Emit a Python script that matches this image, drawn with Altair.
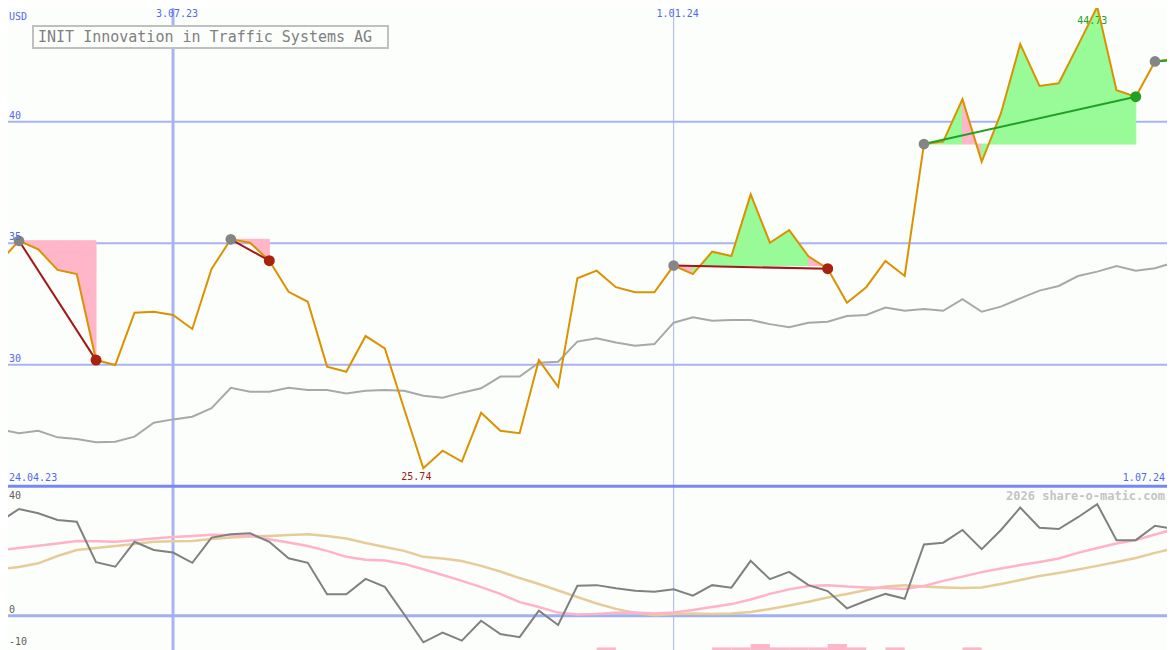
import altair as alt
import pandas as pd

# ---------------- data ----------------
first_day = "2023-05-01"
n_weeks = 62

price = [34.24, 35.10, 34.75, 33.90, 33.73, 30.19, 29.99, 32.14, 32.18, 32.05,
         31.47, 33.94, 35.16, 35.02, 34.28, 33.00, 32.59, 29.92, 29.71, 31.18,
         30.67, 28.19, 25.74, 26.46, 26.01, 28.02, 27.28, 27.18, 30.19, 29.09,
         33.56, 33.87, 33.19, 32.98, 32.98, 34.08, 33.73, 34.65, 34.47, 37.01,
         35.02, 35.54, 34.46, 33.95, 32.55, 33.19, 34.27, 33.65, 39.08, 39.18,
         40.93, 38.35, 40.35, 43.19, 41.47, 41.58, 43.14, 44.73, 41.30, 41.03,
         42.48, 42.55]

avg_price = [27.34, 27.18, 27.28, 27.01, 26.94, 26.81, 26.83, 27.04, 27.61, 27.75,
             27.86, 28.21, 29.05, 28.89, 28.89, 29.05, 28.96, 28.96, 28.82, 28.93,
             28.96, 28.93, 28.72, 28.64, 28.85, 29.03, 29.51, 29.51, 30.08, 30.12,
             30.95, 31.09, 30.91, 30.78, 30.85, 31.73, 31.95, 31.81, 31.84, 31.84,
             31.67, 31.54, 31.73, 31.77, 32.00, 32.05, 32.35, 32.22, 32.29, 32.22,
             32.70, 32.18, 32.39, 32.73, 33.05, 33.24, 33.65, 33.83, 34.06, 33.87,
             33.97, 34.21]

osc_main = [33.2, 37.7, 36.2, 33.8, 33.2, 18.9, 17.3, 26.1, 23.2, 22.3,
            18.7, 27.6, 28.8, 29.1, 26.1, 20.3, 18.7, 7.6, 7.6, 13.0,
            10.2, 0.5, -9.4, -6.0, -8.8, -1.8, -6.5, -7.6, 1.8, -3.3,
            10.6, 10.8, 9.7, 8.8, 8.5, 9.3, 7.1, 10.8, 9.9, 19.4,
            12.9, 15.5, 10.8, 8.7, 2.6, 5.3, 7.7, 6.0, 25.2, 25.8,
            30.3, 23.5, 30.3, 38.2, 31.1, 30.6, 34.8, 39.4, 26.7, 26.7,
            31.8, 30.6]

osc_pink = [23.1, 23.9, 24.7, 25.5, 26.4, 26.3, 26.1, 26.7, 27.3, 27.8,
            28.2, 28.6, 28.5, 28.2, 27.0, 25.9, 24.6, 22.9, 20.8, 19.8,
            19.5, 18.3, 16.4, 14.4, 12.3, 10.1, 7.7, 4.8, 3.1, 1.1,
            0.4, 0.6, 1.0, 1.1, 0.8, 1.1, 2.0, 3.1, 4.1, 5.7,
            7.7, 9.3, 10.5, 10.8, 10.3, 10.0, 9.8, 9.4, 10.5, 12.3,
            13.8, 15.4, 16.7, 17.9, 19.0, 20.2, 22.2, 23.9, 25.5, 26.7,
            28.7, 30.6]

osc_tan = [16.4, 17.2, 18.5, 21.1, 23.2, 23.9, 24.6, 25.3, 26.1, 26.3,
           26.4, 27.1, 27.6, 28.0, 28.2, 28.5, 28.8, 28.2, 27.3, 25.7,
           24.3, 22.9, 20.8, 20.2, 19.3, 17.6, 15.6, 13.3, 11.2, 8.9,
           6.6, 4.3, 2.4, 1.0, 0.2, 0.6, 0.8, 0.6, 0.8, 1.3,
           2.4, 3.6, 4.9, 6.4, 7.7, 9.1, 10.3, 10.8, 10.3, 10.0,
           9.8, 10.0, 11.2, 12.6, 14.0, 15.1, 16.3, 17.6, 19.0, 20.4,
           22.2, 23.8]

bar_start = [31, 37, 38, 39, 40, 41, 42, 43, 44, 46, 50]
bar_top = [-11.2, -11.2, -11.2, -10.0, -11.2, -11.2, -11.2, -10.0, -11.2, -11.2, -11.2]
bar_floor = -13.0

entry_idx = [1, 12, 35, 48, 60]
exit_idx = [5, 14, 43, 59, 61]
trade_color = ["#A01818", "#A01818", "#A01818", "#23A023", "#23A023"]
exit_marker_idx = [5, 14, 43, 59]
exit_marker_color = ["#A8230F", "#A8230F", "#A8230F", "#23A023"]

price_grid = [30, 35, 40]
price_floor = 25
osc_zero = 0
osc_tick_labels = ["40", "0", "-10"]
osc_tick_values = [40, 0, -10]
osc_tick_dy = [-6, -6, -2]
grid_dates = ["2023-07-03", "2024-01-01"]
grid_date_labels = ["3.07.23", "1.01.24"]
grid_widths = [3, 1]
corner_labels = ["24.04.23", "1.07.24"]
title = "INIT Innovation in Traffic Systems AG"
watermark = "2026 share-o-matic.com"
currency = "USD"

# ---------------- styling ----------------
FONT = "DejaVu Sans Mono"
BLUE_TXT = "#5468EE"
GRID = "#A8B4F2"
GREEN_FILL = "#98FB98"
PINK_FILL = "#FFB6C8"
BG = "#FCFEFC"
W, H = 1159, 642

# ---------------- tables ----------------
dates = pd.date_range(first_day, periods=n_weeks, freq="7D")
t0 = dates[0]
day = [(d - t0).days for d in dates]
df = pd.DataFrame({"day": day, "price": price, "avg": avg_price,
                   "osc": osc_main, "pink": osc_pink, "tan": osc_tan})

seg_rows = []
for t, (a, b) in enumerate(zip(entry_idx[:4], exit_idx[:4])):
    base = price[a]
    for k in range(a, b):
        col = GREEN_FILL if price[k + 1] > base else PINK_FILL
        sid = f"{t}-{k}"
        seg_rows.append(dict(seg=sid, day=day[k], p=price[k], base=base, col=col))
        seg_rows.append(dict(seg=sid, day=day[k + 1], p=price[k + 1], base=base, col=col))
seg_df = pd.DataFrame(seg_rows)

tl_rows = []
for t, (a, b, c) in enumerate(zip(entry_idx, exit_idx, trade_color)):
    tl_rows.append(dict(trade=t, day=day[a], p=price[a], col=c))
    tl_rows.append(dict(trade=t, day=day[b], p=price[b], col=c))
tl_df = pd.DataFrame(tl_rows)

entry_df = pd.DataFrame({"day": [day[i] for i in entry_idx], "p": [price[i] for i in entry_idx]})
exit_df = pd.DataFrame({"day": [day[i] for i in exit_marker_idx],
                        "p": [price[i] for i in exit_marker_idx],
                        "col": exit_marker_color})

bar_df = pd.DataFrame({"d0": [day[i] for i in bar_start],
                       "d1": [day[i + 1] for i in bar_start],
                       "top": bar_top, "floor": [bar_floor] * len(bar_start)})

grid_day = [(pd.Timestamp(g) - t0).days for g in grid_dates]
vgrid_df = pd.DataFrame({"day": grid_day, "w": grid_widths, "t": grid_date_labels})

i_low = price.index(min(price))
i_high = price.index(max(price))

# ---------------- scales ----------------
xs = alt.Scale(domain=[2.9994, 424.36], nice=False, zero=False)
ys = alt.Scale(domain=[18.26, 44.679], nice=False, zero=False)
ls = alt.Scale(domain=[-12.12, 214.73], nice=False, zero=False)

X = alt.X("day:Q", scale=xs, axis=None)

def PY(f):
    return alt.Y(f, scale=ys, axis=None)

def LY(f):
    return alt.Y(f, scale=ls, axis=None)

# ---------------- price panel ----------------
hgrid = alt.Chart(pd.DataFrame({"v": price_grid})).mark_rule(color=GRID, strokeWidth=2).encode(y=PY("v:Q"))
floor_rule = alt.Chart(pd.DataFrame({"v": [price_floor]})).mark_rule(color="#7888F0", strokeWidth=3).encode(y=PY("v:Q"))

areas = alt.Chart(seg_df).mark_area(opacity=1, strokeWidth=1).encode(
    x=X, y=PY("p:Q"), y2="base:Q",
    color=alt.Color("col:N", scale=None),
    stroke=alt.Stroke("col:N", scale=None),
    detail="seg:N")

avg_line = alt.Chart(df).mark_line(color="#A8A8A8", strokeWidth=2).encode(x=X, y=PY("avg:Q"))

low_txt = alt.Chart(pd.DataFrame({"day": [day[i_low]], "v": [price_floor], "t": [f"{price[i_low]:.2f}"]})).mark_text(
    font=FONT, fontSize=10, color="#A01818", dx=-7, dy=-9).encode(x=X, y=PY("v:Q"), text="t:N")
high_txt = alt.Chart(pd.DataFrame({"day": [day[i_high]], "v": [price[i_high]], "t": [f"{price[i_high]:.2f}"]})).mark_text(
    font=FONT, fontSize=10, color="#23A023", dx=-5, dy=14).encode(x=X, y=PY("v:Q"), text="t:N")

price_line = alt.Chart(df).mark_line(color="#DA9200", strokeWidth=2).encode(x=X, y=PY("price:Q"))

trade_lines = alt.Chart(tl_df).mark_line(strokeWidth=2).encode(
    x=X, y=PY("p:Q"), color=alt.Color("col:N", scale=None), detail="trade:N")

entry_pts = alt.Chart(entry_df).mark_circle(size=115, opacity=1, color="#858585").encode(x=X, y=PY("p:Q"))
exit_pts = alt.Chart(exit_df).mark_circle(size=120, opacity=1).encode(
    x=X, y=PY("p:Q"), color=alt.Color("col:N", scale=None))

price_labels = alt.Chart(pd.DataFrame({"v": price_grid, "t": [str(v) for v in price_grid]})).mark_text(
    font=FONT, fontSize=10, color=BLUE_TXT, align="left", dy=-6, x=1).encode(y=PY("v:Q"), text="t:N")

corner_df = pd.DataFrame({"v": [price_floor, price_floor], "t": corner_labels})
corner_left = alt.Chart(corner_df.iloc[[0]]).mark_text(
    font=FONT, fontSize=10, color=BLUE_TXT, align="left", dy=-8, x=1).encode(y=PY("v:Q"), text="t:N")
corner_right = alt.Chart(corner_df.iloc[[1]]).mark_text(
    font=FONT, fontSize=10, color=BLUE_TXT, align="right", dy=-8, x=W - 2).encode(y=PY("v:Q"), text="t:N")

price_layer = alt.layer(hgrid, floor_rule, areas, avg_line, low_txt, high_txt, price_line,
                        trade_lines, entry_pts, exit_pts, price_labels, corner_left, corner_right)

# ---------------- indicator panel ----------------
zero_rule = alt.Chart(pd.DataFrame({"v": [osc_zero]})).mark_rule(color="#A0B0F0", strokeWidth=3).encode(y=LY("v:Q"))
bars = alt.Chart(bar_df).mark_rect(color=PINK_FILL).encode(
    x=alt.X("d0:Q", scale=xs, axis=None), x2="d1:Q", y=LY("top:Q"), y2="floor:Q")
tan_line = alt.Chart(df).mark_line(color="#E6CC98", strokeWidth=2.5).encode(x=X, y=LY("tan:Q"))
pink_line = alt.Chart(df).mark_line(color="#FFB2C8", strokeWidth=2.5).encode(x=X, y=LY("pink:Q"))
osc_line = alt.Chart(df).mark_line(color="#808080", strokeWidth=2).encode(x=X, y=LY("osc:Q"))

osc_lab_layers = []
for lab, val, dy in zip(osc_tick_labels, osc_tick_values, osc_tick_dy):
    osc_lab_layers.append(
        alt.Chart(pd.DataFrame({"v": [val], "t": [lab]})).mark_text(
            font=FONT, fontSize=10, color="#606060", align="left", dy=dy, x=1).encode(y=LY("v:Q"), text="t:N"))

lower_layer = alt.layer(zero_rule, bars, tan_line, pink_line, osc_line, *osc_lab_layers)

# ---------------- overlay (dates, title box, watermark) ----------------
vrules = alt.Chart(vgrid_df).mark_rule(color=GRID).encode(
    x=X, strokeWidth=alt.StrokeWidth("w:Q", scale=None))
vlabels = alt.Chart(vgrid_df).mark_text(font=FONT, fontSize=10, color=BLUE_TXT, dx=4, y=1,
                                        baseline="top").encode(x=X, text="t:N")
title_df = pd.DataFrame({"t": [title]})
title_box = alt.Chart(title_df).mark_rect(fill=BG, stroke="#C0C0C0", strokeWidth=2).encode(
    x=alt.value(25), x2=alt.value(380), y=alt.value(18), y2=alt.value(40))
title_txt = alt.Chart(title_df).mark_text(font=FONT, fontSize=15, color="#808080", align="left").encode(
    x=alt.value(30), y=alt.value(29), text="t:N")
usd_txt = alt.Chart(pd.DataFrame({"t": [currency]})).mark_text(
    font=FONT, fontSize=10, color=BLUE_TXT, align="left").encode(x=alt.value(1), y=alt.value(9), text="t:N")
wm_txt = alt.Chart(pd.DataFrame({"t": [watermark]})).mark_text(
    font=FONT, fontSize=12, fontWeight="bold", color="#C4C4C4", align="right").encode(
    x=alt.value(W - 2), y=alt.value(488), text="t:N")

chart = alt.layer(vrules, price_layer, lower_layer, vlabels, title_box, title_txt, usd_txt, wm_txt).resolve_scale(
    y="independent").properties(
    width=W, height=H, padding=0,
    autosize=alt.AutoSizeParams(type="none"), background=BG
).configure_view(stroke=None)

chart.save("out.html", embed_options={"renderer": "svg", "actions": False})
